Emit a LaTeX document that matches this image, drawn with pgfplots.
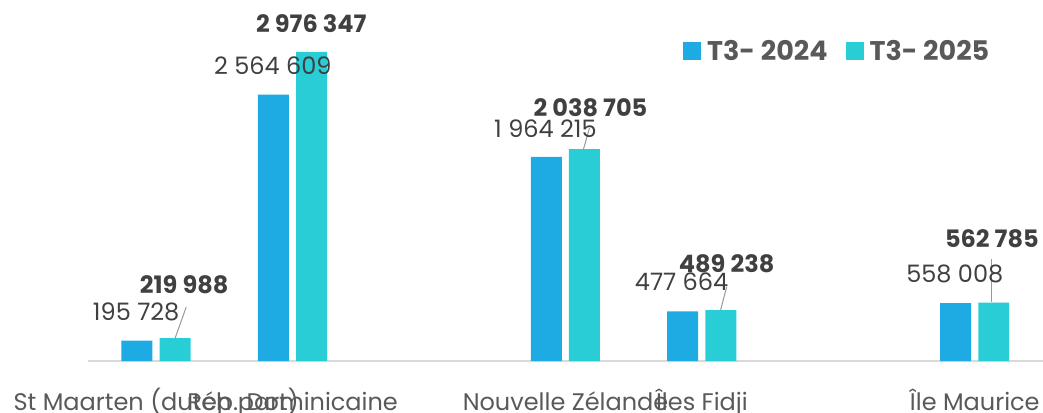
\documentclass[border=0pt]{standalone}
\usepackage{fontspec}
\setmainfont{Poppins}
\usepackage{pgfplots}
\pgfplotsset{compat=1.18}
\definecolor{cA}{HTML}{1EABE3}
\definecolor{cB}{HTML}{28CDD6}
\definecolor{tx}{HTML}{404040}
\definecolor{tg}{HTML}{595959}
\begin{document}
\begin{tikzpicture}
\begin{axis}[name=ax, scale only axis, width=955pt, height=361pt,
  xmin=-0.5, xmax=6.5, ymin=0, ymax=3474500,
  axis x line=bottom, axis y line=none,
  x axis line style={-, draw=black!15, line width=1.5pt},
  xtick={0,1,3,4,6},
  xticklabels={St Maarten (dutch part), Rép. Dominicaine, Nouvelle Zélande, Îles Fidji, Île Maurice},
  xtick style={draw=none}, ytick=\empty,
  xticklabel style={font=\fontsize{24}{28}\selectfont, text=tg, anchor=base, yshift=-45pt},
  ybar, bar width=0.227,
  clip=false,
  legend columns=2,
  legend style={at={(rel axis cs:0.623,0.859)}, anchor=west, draw=none, fill=none,
    inner sep=0pt, font=\fontsize{27}{31}\selectfont\bfseries, text=tg,
    /tikz/every odd column/.append style={column sep=4pt},
    /tikz/every even column/.append style={column sep=16pt}},
  legend image code/.code={\fill[#1] (0pt,-9pt) rectangle (18pt,9pt);},
]
\addplot[fill=cA, draw=none, bar shift=-0.141] coordinates {(0,195728) (1,2564609) (3,1964215) (4,477664) (6,558008)};
\addplot[fill=cB, draw=none, bar shift=0.139] coordinates {(0,219988) (1,2976347) (3,2038705) (4,489238) (6,562785)};
\legend{T3- 2024, T3- 2025}

\draw[black!40, line width=1pt] (axis cs:0.22,520000) -- (axis cs:0.139,221000);
\draw[black!40, line width=1pt] (axis cs:3.176,2243000) -- (axis cs:3.132,2040000);
\draw[black!40, line width=1pt] (axis cs:4.181,712000) -- (axis cs:4.137,491000);
\draw[black!40, line width=1pt] (axis cs:6.125,982000) -- (axis cs:6.125,564000);

\tikzset{lab/.style={font=\fontsize{24}{29}\selectfont, text=tx, inner sep=0pt},
         labb/.style={font=\fontsize{24}{29}\selectfont\bfseries, text=tx, inner sep=0pt}}
\node[lab] at (axis cs:-0.147,472000) {195 728};
\node[labb] at (axis cs:0.205,731000) {219 988};
\node[lab] at (axis cs:0.855,2839000) {2 564 609};
\node[labb] at (axis cs:1.137,3248000) {2 976 347};
\node[lab] at (axis cs:2.853,2233000) {1 964 215};
\node[labb] at (axis cs:3.183,2435000) {2 038 705};
\node[lab] at (axis cs:3.851,760000) {477 664};
\node[labb] at (axis cs:4.181,938000) {489 238};
\node[lab] at (axis cs:5.853,837000) {558 008};
\node[labb] at (axis cs:6.125,1179000) {562 785};
\end{axis}
\pgfresetboundingbox
\path[use as bounding box] ([xshift=-88pt,yshift=-51pt]ax.south west) rectangle (ax.north east);
\end{tikzpicture}
\end{document}
